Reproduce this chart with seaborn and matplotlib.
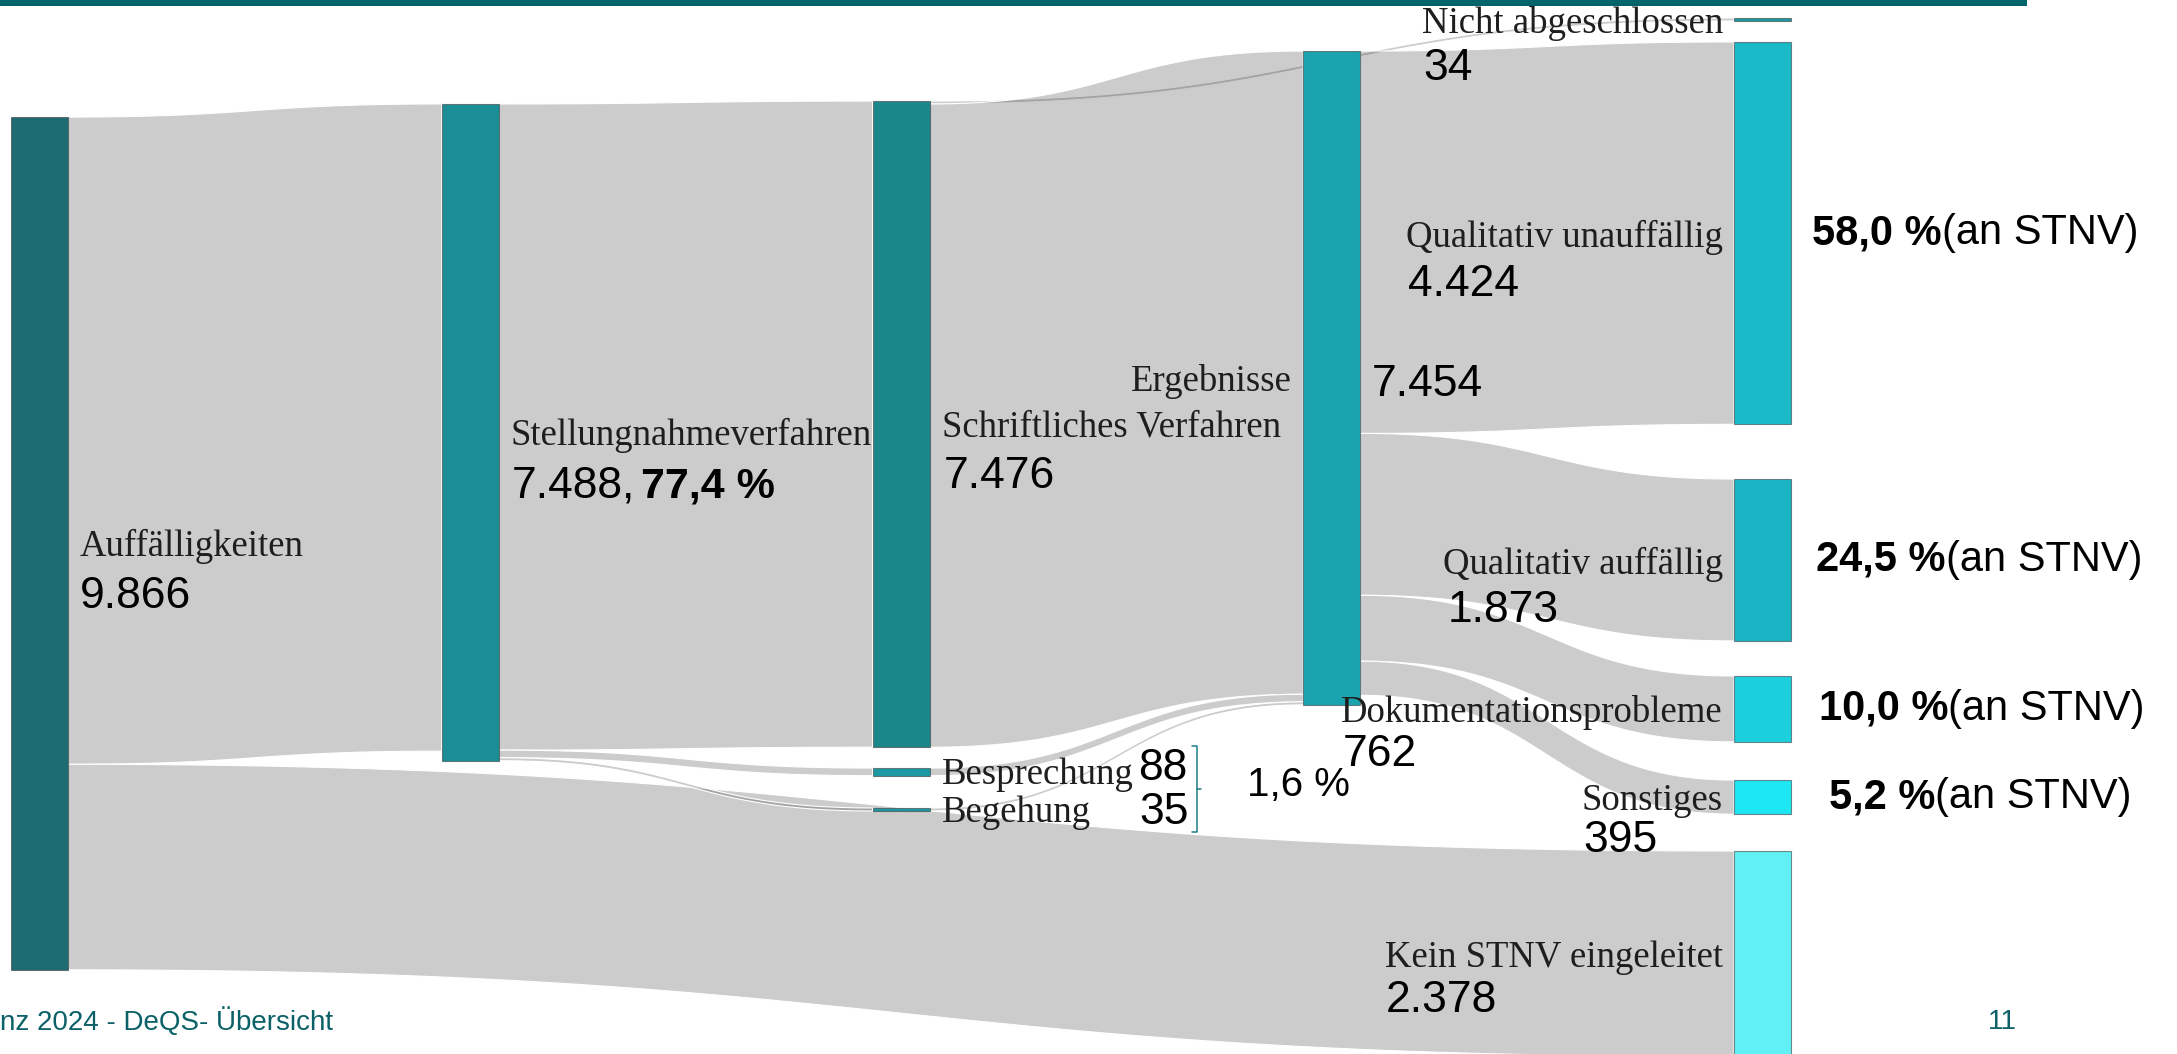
import numpy as np
import matplotlib.pyplot as plt
import seaborn as sns
from matplotlib.patches import Rectangle

# Data
nodes = ["Auffälligkeiten", "Stellungnahmeverfahren", "Schriftliches Verfahren",
         "Besprechung", "Begehung", "Ergebnisse", "Nicht abgeschlossen",
         "Qualitativ unauffällig", "Qualitativ auffällig", "Dokumentationsprobleme",
         "Sonstiges", "Kein STNV eingeleitet"]
node_counts = [9866, 7488, 7476, 88, 35, 7454, 34, 4424, 1873, 762, 395, 2378]

link_source = [0, 0, 1, 1, 1, 2, 2, 3, 4, 5, 5, 5, 5]
link_target = [1, 11, 2, 3, 4, 6, 5, 5, 5, 7, 8, 9, 10]
link_value = [7488, 2378, 7476, 88, 35, 34, 7442, 88, 35, 4424, 1873, 762, 395]

stnv_rate = 77.4                      # share of Auffälligkeiten with STNV
share_nodes = [7, 8, 9, 10]
share_values = [58.0, 24.5, 10.0, 5.2]  # % an STNV
meeting_share = 1.6                   # Besprechung + Begehung

# Layout (fixed arrangement, plotly-like)
node_col = [0, 1, 2, 2, 2, 3, 4, 4, 4, 4, 4, 4]
node_y = [0.5156, 0.4102, 0.4024, 0.7323, 0.768, 0.3586,
          0.0185, 0.2212, 0.5313, 0.6726, 0.7563, 0.9049]
node_colors = ["#1b6d72", "#1a8d96", "#1a888b", "#1b9aa6", "#1b9aa6", "#1aa4b0",
               "#1a9aa6", "#1abac8", "#1ab4c4", "#1bcfdd", "#1ee7f4", "#60f0f6"]
count_pos = [(80, 597), (512, 486), (944, 476), (1138, 768), (1139, 812),
             (1372, 385), (1423, 69), (1408, 285), (1448, 611), (1343, 754),
             (1583, 840), (1386, 1000)]
share_x = [1812, 1816, 1819, 1829]

W, H = 2177, 1054
CASES_PER_PX = 11.57
COL_X0, COL_STEP, NODE_W = 11, 430.75, 57

SERIF = ["Liberation Serif", "DejaVu Serif"]
NUM = ["Liberation Sans", "DejaVu Sans"]
TEAL_TXT = "#0b6167"
NUM_SIZE = 32


def fmt(n):
    return f"{n:,}".replace(",", ".")


def pct(v):
    return f"{v:.1f}".replace(".", ",") + " %"


sns.set_theme(style="white")
plt.rcParams["font.family"] = SERIF

fig = plt.figure(figsize=(W / 100, H / 100), dpi=100)
ax = fig.add_axes([0, 0, 1, 1])
ax.set_xlim(0, W)
ax.set_ylim(H, 0)
ax.axis("off")

# node geometry
n = len(nodes)
inflow = np.zeros(n)
outflow = np.zeros(n)
for s, t, v in zip(link_source, link_target, link_value):
    outflow[s] += v
    inflow[t] += v
heights = np.maximum(inflow, outflow) / CASES_PER_PX
centers = np.array(node_y) * H
tops = centers - heights / 2
lefts = np.array([COL_X0 + c * COL_STEP for c in node_col])

# link stacking: outgoing sorted by target position, incoming by source position
links = list(range(len(link_value)))
src_off, tgt_off = {}, {}
for i in range(n):
    outs = sorted([k for k in links if link_source[k] == i], key=lambda k: centers[link_target[k]])
    y = tops[i]
    for k in outs:
        src_off[k] = y
        y += link_value[k] / CASES_PER_PX
    ins = sorted([k for k in links if link_target[k] == i], key=lambda k: centers[link_source[k]])
    y = tops[i]
    for k in ins:
        tgt_off[k] = y
        y += link_value[k] / CASES_PER_PX

t = np.linspace(0, 1, 80)
for k in links:
    s, g = link_source[k], link_target[k]
    x0 = lefts[s] + NODE_W
    x1 = lefts[g]
    xm = (x0 + x1) / 2
    bx = (1 - t) ** 3 * x0 + 3 * (1 - t) ** 2 * t * xm + 3 * (1 - t) * t ** 2 * xm + t ** 3 * x1
    ease = 3 * t ** 2 - 2 * t ** 3
    dh = link_value[k] / CASES_PER_PX
    ytop = src_off[k] + (tgt_off[k] - src_off[k]) * ease
    ybot = ytop + dh
    ax.fill(np.concatenate([bx, bx[::-1]]), np.concatenate([ytop, ybot[::-1]]),
            facecolor=(0, 0, 0, 0.2), edgecolor="white", lw=0.8, zorder=1)

for i in range(n):
    ax.add_patch(Rectangle((lefts[i], tops[i]), NODE_W, max(heights[i], 2.5),
                           facecolor=node_colors[i], edgecolor=(0.25, 0.25, 0.25, 0.6),
                           lw=0.8, zorder=2))

# node labels
for i in range(n):
    if node_col[i] < 3:
        ax.text(lefts[i] + NODE_W + 12, centers[i] + 3, nodes[i], ha="left", va="center",
                fontsize=26.5, color="#1e1e1e", family=SERIF, zorder=3)
    else:
        ax.text(lefts[i] - 11, centers[i] + 4, nodes[i], ha="right", va="center",
                fontsize=26.5, color="#1e1e1e", family=SERIF, zorder=3)

# counts
for i in range(n):
    x, y = count_pos[i]
    if i == 1:
        t1 = ax.text(x, y, fmt(node_counts[i]) + ",", ha="left", va="center",
                     fontsize=NUM_SIZE, family=NUM, color="black", zorder=3)
        ax.annotate(pct(stnv_rate), xy=(1, 0.5), xycoords=t1, xytext=(4, 0),
                    textcoords="offset points", ha="left", va="center",
                    fontsize=NUM_SIZE - 1, family=NUM, fontweight="bold", color="black",
                    zorder=3)
    else:
        ax.text(x, y, fmt(node_counts[i]), ha="left", va="center",
                fontsize=NUM_SIZE, family=NUM, color="black", zorder=3)

# bracket for Besprechung/Begehung
yb0 = centers[3] - 26
yb1 = centers[4] + 23
bx0 = 1197
ax.plot([bx0 - 5, bx0, bx0, bx0 - 5], [yb0, yb0, yb1, yb1], color="#1a7f86", lw=1.1, zorder=3)
ax.plot([bx0, bx0 + 4], [(yb0 + yb1) / 2] * 2, color="#1a7f86", lw=1.1, zorder=3)
ax.text(1247, (yb0 + yb1) / 2 - 4, pct(meeting_share), ha="left", va="center",
        fontsize=NUM_SIZE - 3, family=NUM, color="black", zorder=3)

# shares on the right
for i, v, x in zip(share_nodes, share_values, share_x):
    t1 = ax.text(x, centers[i], pct(v), ha="left", va="center", fontsize=NUM_SIZE - 2,
                 family=NUM, fontweight="bold", color="black", zorder=3)
    ax.annotate("(an STNV)", xy=(1, 0.5), xycoords=t1, ha="left", va="center",
                fontsize=NUM_SIZE - 2, family=NUM, color="black", zorder=3)

# slide decorations
ax.add_patch(Rectangle((0, 0), 2027, 6, facecolor="#00646a", edgecolor="none", zorder=4))
ax.text(0, 1022, "nz 2024 - DeQS- Übersicht", ha="left", va="center", fontsize=20,
        family=NUM, color=TEAL_TXT, zorder=3)
ax.text(1988, 1022, "11", ha="left", va="center", fontsize=20, family=NUM,
        color=TEAL_TXT, zorder=3)

fig.savefig("out.png", dpi=100)
